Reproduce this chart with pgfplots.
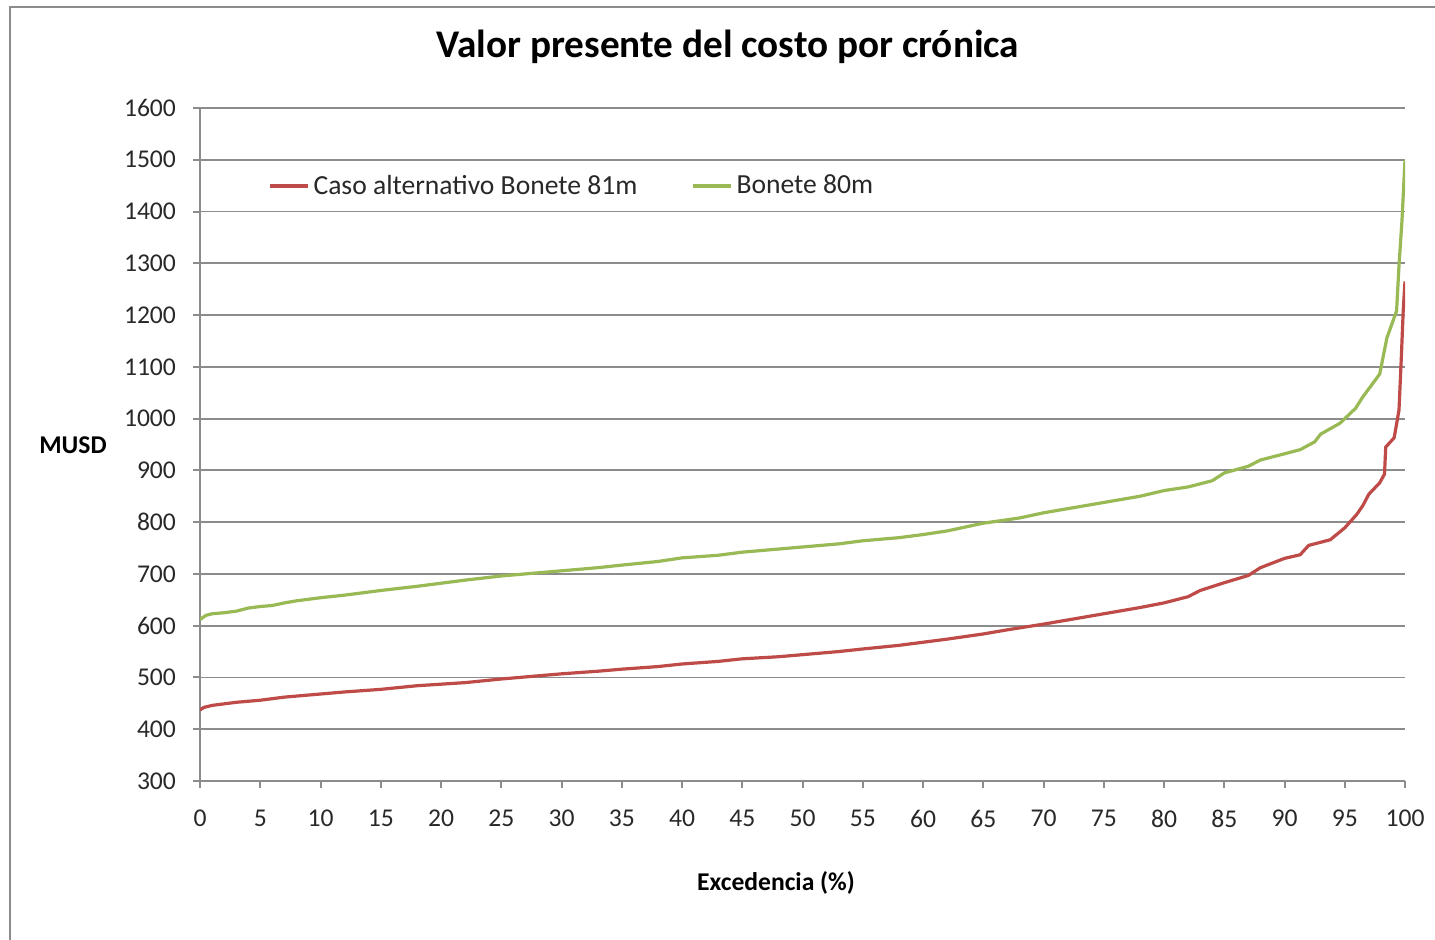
\documentclass[border=0pt]{standalone}
\usepackage{pgfplots}
\pgfplotsset{compat=1.18}
\usepackage{fontspec}
\setmainfont{Carlito}
\definecolor{xred}{RGB}{190,75,72}
\definecolor{xgreen}{RGB}{152,185,84}
\definecolor{xgrid}{RGB}{140,140,140}
\definecolor{xtext}{RGB}{40,40,40}
\begin{document}
\begin{tikzpicture}
\path[use as bounding box] (0,0) rectangle (717.5pt,470pt);
\draw[line width=1pt,color={rgb,255:red,140;green,140;blue,140}] (5pt,-10pt) -- (5pt,466.5pt) -- (730pt,466.5pt);
\begin{axis}[
  at={(100pt,79.5pt)}, anchor=south west,
  scale only axis, width=602.5pt, height=336.5pt,
  xmin=0, xmax=100, ymin=300, ymax=1600,
  xtick distance=5, ytick distance=100,
  axis lines*=left,
  axis line style={xgrid, line width=1pt},
  tick style={xgrid, line width=1pt},
  tick align=outside, major tick length=3.5pt,
  ymajorgrids, grid style={xgrid, line width=0.9pt},
  /pgf/number format/assume math mode=true,
  /pgf/number format/1000 sep={},
  ticklabel style={font=\fontsize{12.8}{15}\selectfont, text=xtext},
  yticklabel style={xshift=-5pt},
  xticklabel style={yshift=-7.5pt},
  title={\textbf{Valor presente del costo por crónica}},
  title style={at={(axis description cs:0.438,1.0936)}, anchor=center, yshift=-7pt, font=\fontsize{19.6}{23}\selectfont},
  xlabel={\textbf{Excedencia (\%)}},
  xlabel style={at={(axis description cs:0.478,-0.1516)}, anchor=center, font=\fontsize{12.8}{15}\selectfont},
  ylabel={\textbf{MUSD}},
  ylabel style={at={(axis description cs:-0.1054,0.499)}, anchor=center, rotate=-90, font=\fontsize{12.8}{15}\selectfont},
  legend columns=2,
  legend style={at={(axis description cs:0.0564,0.884)}, anchor=west, draw=none, fill=none,
    font=\fontsize{13.8}{16}\selectfont, text=xtext, inner sep=0pt,
    /tikz/every even column/.append style={column sep=25pt}},
  legend cell align=left,
  legend image code/.code={\draw[#1] (0pt,0pt) -- (19pt,0pt);},
]
\addplot[xred, line width=1.6pt] coordinates {
(0,437) (0.3,442) (1,446) (2,449) (3,452) (4,454) (5,456) (6,459) (7,462) (8,464) (10,468) (12,472) (15,477) (18,484) (20,487) (22,490) (25,497) (28,503) (30,507) (33,512) (35,516) (38,521) (40,526) (43,531) (45,536) (48,540) (50,544) (53,550) (55,555) (58,562) (60,568) (62,574) (65,584) (67,592) (70,603) (72,611) (75,623) (78,635) (80,644) (82,656) (83,668) (85,683) (87,697) (88,712) (90,730) (91.3,737) (92,755) (93.8,766) (95,789) (96,815) (96.5,832) (97,854) (97.9,876) (98.3,893) (98.4,945) (99.1,963) (99.5,1016) (99.7,1121) (99.85,1208) (100,1265)
};
\addlegendentry{Caso alternativo Bonete 81m}
\addplot[xgreen, line width=1.6pt] coordinates {
(0,612) (0.5,620) (1,623) (2,625) (3,628) (4,634) (5,637) (6,639) (7,644) (8,648) (10,654) (12,659) (15,668) (18,676) (20,682) (22,688) (25,696) (28,702) (30,706) (33,712) (35,717) (38,724) (40,731) (43,736) (45,742) (48,748) (50,752) (53,758) (55,764) (58,770) (60,776) (62,783) (65,798) (68,808) (70,818) (72,826) (75,838) (78,850) (80,861) (82,868) (84,880) (85,895) (87,908) (88,920) (90,932) (91.3,940) (92.5,955) (93,970) (94.6,991) (95.9,1020) (96.5,1042) (97.9,1086) (98.5,1156) (99.3,1208) (99.5,1295) (99.75,1383) (100,1500)
};
\addlegendentry{Bonete 80m}
\end{axis}
\end{tikzpicture}
\end{document}
